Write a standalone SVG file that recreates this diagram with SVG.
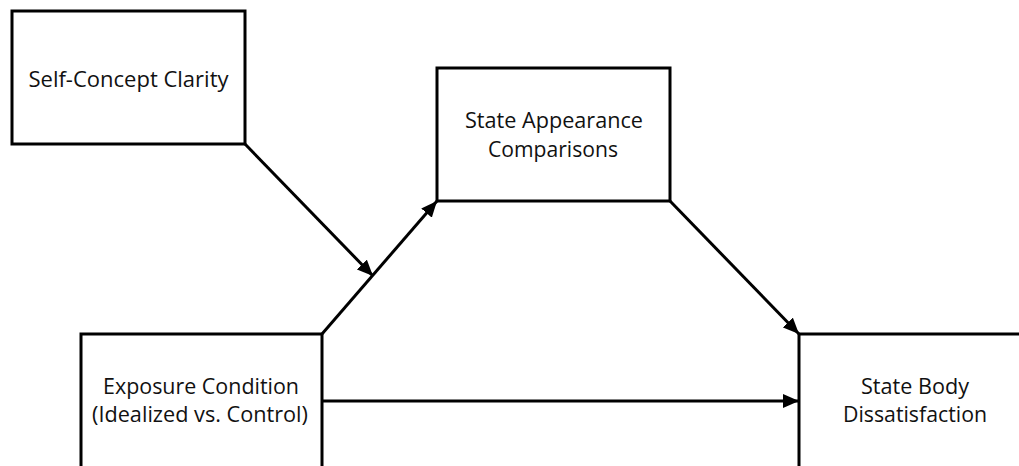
<svg xmlns="http://www.w3.org/2000/svg" width="1019" height="466" viewBox="0 0 1019 466">
<style>
.box{fill:#fff;stroke:#000;stroke-width:3}
.lbl{font-family:"Open Sans","Liberation Sans",sans-serif;font-size:21px;fill:#111;text-anchor:middle}
.conn{stroke:#000;stroke-width:3;fill:none;marker-end:url(#ah)}
</style>
<defs>
<marker id="ah" markerUnits="userSpaceOnUse" markerWidth="18" markerHeight="14" refX="16" refY="7" orient="auto">
<path d="M0,0 L16,7 L0,14 Z" fill="#000"/>
</marker>
</defs>
<rect width="1019" height="466" fill="#fff"/>
<g id="connectors">
<line class="conn" x1="245" y1="144" x2="373" y2="276"/>
<line class="conn" x1="322" y1="334" x2="437" y2="201"/>
<line class="conn" x1="670" y1="201" x2="799" y2="334"/>
<line class="conn" x1="322" y1="401" x2="799" y2="401"/>
</g>
<g id="self-concept-clarity">
<rect class="box" x="12" y="11" width="233" height="133"/>
<text class="lbl" x="128.5" y="87" textLength="200" lengthAdjust="spacingAndGlyphs">Self-Concept Clarity</text>
</g>
<g id="state-appearance-comparisons">
<rect class="box" x="437" y="68" width="233" height="133"/>
<text class="lbl" x="554" y="128" textLength="178" lengthAdjust="spacingAndGlyphs">State Appearance</text>
<text class="lbl" x="553" y="157" textLength="130" lengthAdjust="spacingAndGlyphs">Comparisons</text>
</g>
<g id="exposure-condition">
<rect class="box" x="81" y="334" width="241" height="140"/>
<text class="lbl" x="201" y="394" textLength="196" lengthAdjust="spacingAndGlyphs">Exposure Condition</text>
<text class="lbl" x="200" y="422" textLength="216" lengthAdjust="spacingAndGlyphs">(Idealized vs. Control)</text>
</g>
<g id="state-body-dissatisfaction">
<rect class="box" x="799" y="334" width="240" height="140"/>
<text class="lbl" x="915" y="394" textLength="108" lengthAdjust="spacingAndGlyphs">State Body</text>
<text class="lbl" x="915" y="422" textLength="144" lengthAdjust="spacingAndGlyphs">Dissatisfaction</text>
</g>
</svg>
